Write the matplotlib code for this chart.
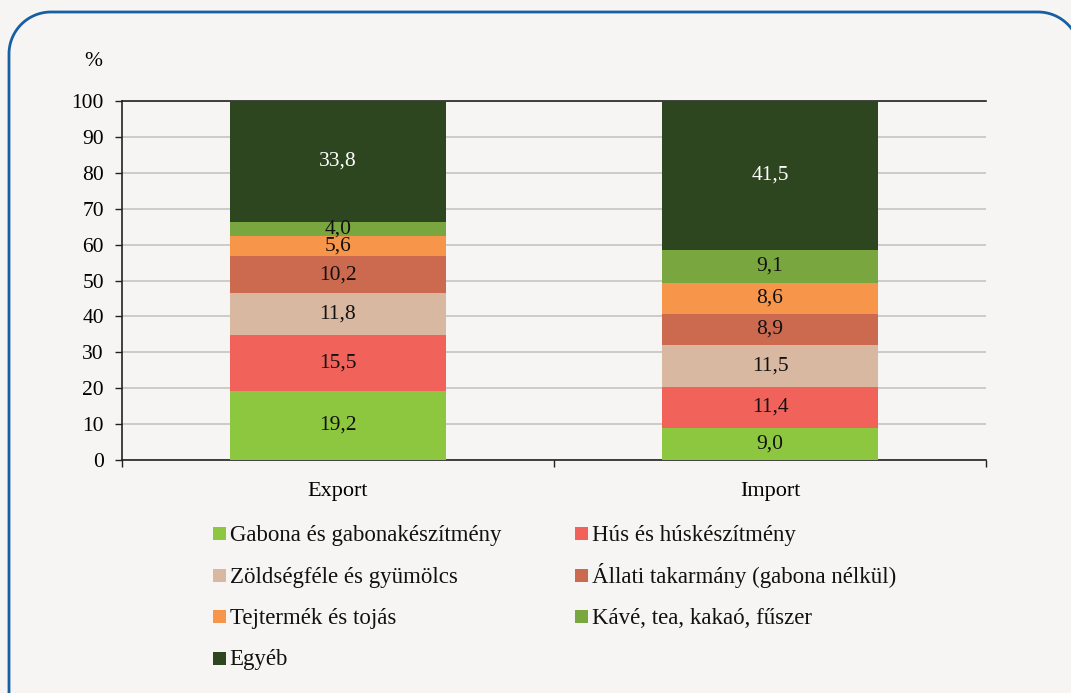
import matplotlib
matplotlib.use("Agg")
import matplotlib.pyplot as plt
from matplotlib.patches import Rectangle
import numpy as np

categories = ["Export", "Import"]
series_names = ["Gabona és gabonakészítmény", "Hús és húskészítmény",
                "Zöldségféle és gyümölcs", "Állati takarmány (gabona nélkül)",
                "Tejtermék és tojás", "Kávé, tea, kakaó, fűszer", "Egyéb"]
gabona = [19.2, 9.0]
hus = [15.5, 11.4]
zoldseg = [11.8, 11.5]
allati = [10.2, 8.9]
tej = [5.6, 8.6]
kave = [4.0, 9.1]
egyeb = [33.8, 41.5]
colors = ["#8dc63f", "#f0625a", "#d8b8a0", "#cc6a50", "#f7964a", "#7aa640", "#2e4620"]
yticks = [0, 10, 20, 30, 40, 50, 60, 70, 80, 90, 100]

series = [gabona, hus, zoldseg, allati, tej, kave, egyeb]

W, H = 1071, 693
bg = "#f6f5f3"
plt.rcParams['font.family'] = ['Liberation Serif', 'DejaVu Serif']
fig = plt.figure(figsize=(W/100, H/100), dpi=100, facecolor=bg)

# overlay axes in pixel coordinates (y downwards) for frame and legend
ov = fig.add_axes([0, 0, 1, 1], zorder=-1)
ov.set_xlim(0, W)
ov.set_ylim(H, 0)
ov.axis("off")
r = 42
xl, xr, yt, yb = 9, 1080, 12, H + 20
th1 = np.linspace(np.pi, 1.5*np.pi, 40)
th2 = np.linspace(1.5*np.pi, 2*np.pi, 40)
px = np.concatenate([[xl], xl + r + r*np.cos(th1), xr - r + r*np.cos(th2), [xr]])
py = np.concatenate([[yb], yt + r + r*np.sin(th1), yt + r + r*np.sin(th2), [yb]])
ov.plot(px, py, color="#175fa3", lw=2, solid_capstyle="round")

ax = fig.add_axes([122/W, 1-460/H, (986-122)/W, (460-101)/H])
ax.set_facecolor(bg)
x = np.arange(len(categories))
bottom = np.zeros(len(categories))
for vals, name, c in zip(series, series_names, colors):
    vals = np.array(vals)
    ax.bar(x, vals, 0.5, bottom=bottom, color=c, label=name, zorder=3)
    for xi, v, b in zip(x, vals, bottom):
        tc = "white" if c == colors[-1] else "#111111"
        ax.text(xi, b + v/2, f"{v:.1f}".replace(".", ","), ha="center", va="center",
                fontsize=15.5, color=tc, zorder=4)
    bottom += vals

ax.set_xlim(-0.5, 1.5)
ax.set_ylim(0, 100)
ax.set_yticks(yticks)
ax.set_yticklabels([str(t) for t in yticks], fontsize=15.5)
ax.yaxis.grid(True, color="#c4c4c4", linewidth=1.2, zorder=0)
ax.set_xticks(x)
ax.set_xticklabels(categories, fontsize=16)
ax.tick_params(axis='x', length=0, pad=16)
ax.set_xticks([-0.5, 0.5, 1.5], minor=True)
ax.tick_params(axis='x', which='minor', length=5, width=1, color="#222222")
ax.tick_params(axis='y', length=5, width=1, color="#222222", pad=8)
ax.spines["right"].set_visible(False)
for s in ["left", "bottom", "top"]:
    ax.spines[s].set_color("#222222")
    ax.spines[s].set_linewidth(1.2)

fig.text(93/W, 1-62/H, "%", fontsize=15.5, ha="center", va="center")

# legend: two columns, filled row by row
col_x = [213, 575]
row_base = [541, 582.5, 624, 665.5]
for i, (name, c) in enumerate(zip(series_names, colors)):
    cx = col_x[i % 2]
    by = row_base[i // 2]
    ov.add_patch(Rectangle((cx, by - 14), 13, 13, color=c, lw=0))
    ov.text(cx + 16.5, by, name, fontsize=16.5, ha="left", va="baseline",
            color="#111111")

fig.savefig("out.png", dpi=100, facecolor=bg)
